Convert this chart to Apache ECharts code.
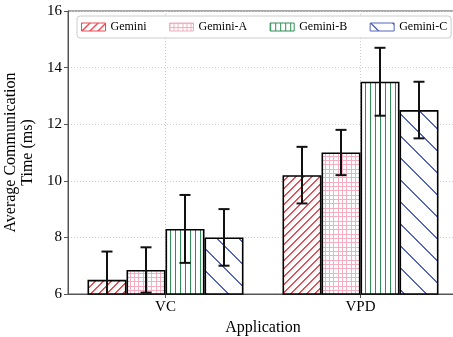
<!DOCTYPE html>
<html>
<head>
<meta charset="utf-8">
<script src="https://cdn.jsdelivr.net/npm/echarts@6/dist/echarts.min.js"></script>
<style>html,body{margin:0;padding:0;background:#fff;}#c{width:453px;height:337px;}</style>
</head>
<body>
<div id="c"></div>
<script>
const categories = ['VC', 'VPD'];
const seriesNames = ['Gemini', 'Gemini-A', 'Gemini-B', 'Gemini-C'];
const gemini = [6.5, 10.2];
const geminiA = [6.85, 11.0];
const geminiB = [8.3, 13.5];
const geminiC = [8.0, 12.5];
const geminiErr = [1.0, 1.0];
const geminiAErr = [0.8, 0.8];
const geminiBErr = [1.2, 1.2];
const geminiCErr = [1.0, 1.0];
const yMin = 6, yMax = 16, yInterval = 2;

const FONT = 'Liberation Serif, Times New Roman, serif';
const hatchColors = ['#ef4a52', '#f5aebf', '#2f8f55', '#5566bb'];
const barW = 39;

function makePattern(kind, color) {
  const c = document.createElement('canvas');
  let s;
  if (kind === 'fwd') s = 8;
  else if (kind === 'back') s = 22;
  else if (kind === 'grid') s = 13;
  else s = 10;
  c.width = s; c.height = s;
  const g = c.getContext('2d');
  g.fillStyle = '#ffffff';
  g.fillRect(0, 0, s, s);
  g.fillStyle = color;
  if (kind === 'fwd') {
    for (let x = 0; x < s; x++) { g.fillRect(x, s - 1 - x, 1, 1); g.fillRect((x + 1) % s, s - 1 - x, 1, 1); }
  } else if (kind === 'back') {
    for (let x = 0; x < s; x++) { g.fillRect(x, x, 1, 1); g.fillRect((x + 1) % s, x, 1, 1); }
  } else if (kind === 'grid') {
    [0, 4, 8].forEach(p => { g.fillRect(p, 0, 1, s); g.fillRect(0, p, s, 1); });
  } else {
    [0, 5].forEach(p => { g.fillRect(p, 0, 1, s); });
  }
  return { image: c, repeat: 'repeat' };
}
const kinds = ['fwd', 'grid', 'vert', 'back'];
const barPatterns = kinds.map((k, i) => makePattern(k, hatchColors[i]));
const legendPatterns = kinds.map((k, i) => makePattern(k, hatchColors[i]));

const values = [gemini, geminiA, geminiB, geminiC];
const errs = [geminiErr, geminiAErr, geminiBErr, geminiCErr];

const errData = [];
values.forEach((arr, s) => arr.forEach((v, ci) => errData.push([ci, v, errs[s][ci], s])));

const barSeries = seriesNames.map((name, i) => ({
  name: name,
  type: 'bar',
  data: values[i],
  barWidth: barW,
  barGap: '0%',
  itemStyle: { color: barPatterns[i], borderColor: '#000', borderWidth: 1.6 },
  emphasis: { disabled: true },
  z: 2
}));

const errSeries = {
  name: 'err',
  type: 'custom',
  data: errData,
  clip: true,
  z: 10,
  renderItem: function (params, api) {
    const ci = api.value(0), v = api.value(1), e = api.value(2), s = api.value(3);
    const x = api.coord([ci, v])[0] + (s - 1.5) * barW;
    const yt = api.coord([ci, v + e])[1];
    const yb = api.coord([ci, v - e])[1];
    const cw = 5.5;
    const st = { stroke: '#111', lineWidth: 2 };
    return {
      type: 'group',
      children: [
        { type: 'line', shape: { x1: x, y1: yt, x2: x, y2: yb }, style: st },
        { type: 'line', shape: { x1: x - cw, y1: yt, x2: x + cw, y2: yt }, style: st },
        { type: 'line', shape: { x1: x - cw, y1: yb, x2: x + cw, y2: yb }, style: st }
      ]
    };
  }
};

const chart = echarts.init(document.getElementById('c'), null, { renderer: 'canvas' });
chart.setOption({
  animation: false,
  backgroundColor: '#fff',
  grid: { left: 68, top: 11, width: 390, height: 283, containLabel: false, outerBoundsMode: 'none', show: true, borderColor: '#555', borderWidth: 1, backgroundColor: 'transparent' },
  legend: {
    left: 77, top: 16,
    padding: [5, 4, 5, 4],
    itemWidth: 24, itemHeight: 8, itemGap: 22.5,
    backgroundColor: '#fff', borderColor: '#ccc', borderWidth: 1, borderRadius: 3,
    textStyle: { fontFamily: FONT, fontSize: 12, color: '#000' },
    selectedMode: false,
    data: seriesNames.map((n, i) => ({
      name: n, icon: 'rect',
      itemStyle: { color: legendPatterns[i], borderColor: hatchColors[i], borderWidth: 1 }
    }))
  },
  xAxis: {
    type: 'category',
    data: categories,
    name: 'Application',
    nameLocation: 'middle',
    nameGap: 18,
    nameTextStyle: { fontFamily: FONT, fontSize: 16, color: '#000' },
    axisLine: { show: true, lineStyle: { color: '#555', width: 1 } },
    axisTick: { show: true, alignWithLabel: true, length: 4, lineStyle: { color: '#555' } },
    axisLabel: { fontFamily: FONT, fontSize: 15, color: '#000', margin: 6 },
    splitLine: { show: true, alignWithLabel: true, lineStyle: { color: '#ccc', type: [1, 2], width: 1 } }
  },
  yAxis: {
    type: 'value',
    min: yMin, max: yMax, interval: yInterval,
    name: 'Average Communication\nTime (ms)',
    nameLocation: 'middle',
    nameGap: 21,
    nameTextStyle: { fontFamily: FONT, fontSize: 16, color: '#000', lineHeight: 17 },
    axisLine: { show: true, lineStyle: { color: '#555', width: 1 } },
    axisTick: { show: true, length: 4, lineStyle: { color: '#555' } },
    axisLabel: { fontFamily: FONT, fontSize: 15, color: '#000', margin: 6 },
    splitLine: { show: true, lineStyle: { color: '#ccc', type: [1, 2], width: 1 } }
  },
  series: barSeries.concat([errSeries])
});
</script>
</body>
</html>
